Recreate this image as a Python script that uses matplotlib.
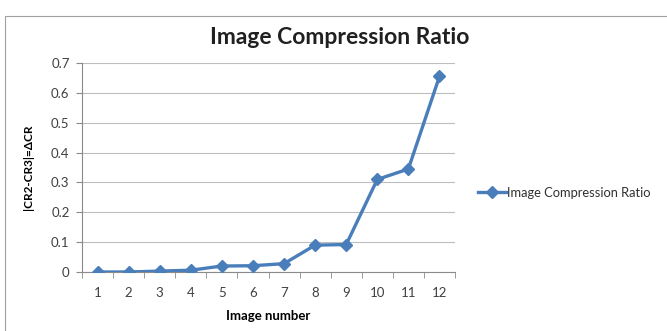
import matplotlib
matplotlib.use("Agg")
import matplotlib.pyplot as plt
from matplotlib.patches import Rectangle
import numpy as np

plt.rcParams['font.family'] = ['Lato', 'DejaVu Sans']

images = [1, 2, 3, 4, 5, 6, 7, 8, 9, 10, 11, 12]
delta_cr = [0.0, 0.0, 0.003, 0.006, 0.02, 0.021, 0.028, 0.09, 0.092, 0.31, 0.345, 0.655]
y_ticks = [0, 0.1, 0.2, 0.3, 0.4, 0.5, 0.6, 0.7]
series_name = "Image Compression Ratio"

fig = plt.figure(figsize=(6.67, 3.31), dpi=100)
fig.patch.set_facecolor('white')

# outer chart border
fig.add_artist(Rectangle((5 / 667, -0.05), 1.0, 1 - 16 / 331 + 0.05,
                         transform=fig.transFigure, fill=False,
                         edgecolor='#a0a0a0', linewidth=0.8))

ax = fig.add_axes([82 / 667, 1 - 272 / 331, (455 - 82) / 667, (272 - 63) / 331])

x = np.arange(len(images))
line, = ax.plot(x, delta_cr, color='#4a7ebb', linewidth=2.4, marker='D',
                markersize=6, label=series_name, zorder=3)

ax.set_xlim(-0.5, len(images) - 0.5)
ax.set_ylim(0, 0.7)
ax.set_yticks(y_ticks)
ax.set_yticklabels([f"{v:g}" for v in y_ticks])
ax.set_xticks(x)
ax.set_xticklabels([str(i) for i in images])
ax.set_xticks(np.arange(-0.5, len(images), 1.0), minor=True)

ax.grid(axis='y', color='#bdbdbd', linewidth=0.8)
ax.set_axisbelow(True)
for side in ['top', 'right']:
    ax.spines[side].set_visible(False)
for side in ['left', 'bottom']:
    ax.spines[side].set_color('#8a8a8a')
    ax.spines[side].set_linewidth(0.8)

ax.tick_params(axis='y', length=4, color='#8a8a8a', labelsize=9.5,
               labelcolor='#404040', pad=5)
ax.tick_params(axis='x', which='major', length=0, labelsize=9.5,
               labelcolor='#404040', pad=11)
ax.tick_params(axis='x', which='minor', length=4, color='#8a8a8a')

ax.set_xlabel("Image number", fontsize=9.5, fontweight='bold', labelpad=8)
ax.set_ylabel("|CR2-CR3|=ΔCR", fontsize=8.5, fontweight='bold', labelpad=12)

fig.text(340 / 667, 1 - 38 / 331, "Image Compression Ratio", ha='center', va='center',
         fontsize=16.5, fontweight='bold', color='#202020')

fig.legend(handles=[line], loc='center left',
           bbox_to_anchor=(466 / 667, 1 - 193 / 331), frameon=False,
           fontsize=9.3, handlelength=2.2, handletextpad=0.05,
           labelcolor='#303030')

fig.savefig("out.png", dpi=100)
